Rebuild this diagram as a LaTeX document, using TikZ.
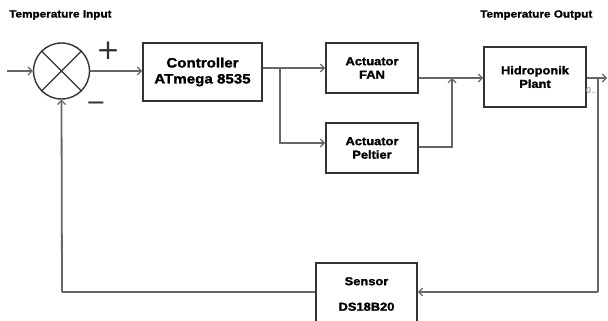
\documentclass[tikz,border=0pt]{standalone}
\usepackage{fontspec}
\setmainfont{Liberation Sans}[FakeStretch=1.12,FakeBold=1.5]
\newfontfamily\thinfont{DejaVu Sans}
\usetikzlibrary{arrows.meta}
\definecolor{boxc}{HTML}{333333}
\definecolor{linec}{HTML}{666666}
\tikzset{
  blk/.style={draw=boxc, line width=1.7pt, fill=white, align=center, font=\bfseries\fontsize{11.5}{13.5}\selectfont, inner sep=0pt},
  wire/.style={draw=linec, line width=1.8pt},
  arr/.style={wire, -{Straight Barb[length=4pt,width=8pt,line width=1.2pt]}},
  lbl/.style={font=\bfseries\fontsize{10.5}{12}\selectfont, inner sep=0pt, anchor=west},
  sign/.style={text=boxc, inner sep=0pt}
}
\begin{document}
\begin{tikzpicture}[x=1pt,y=-1pt]
\useasboundingbox (0,0) rectangle (608,321);
\clip (0,0) rectangle (608,321);
% labels
\node[lbl] (tin) at (9,15) {Temperature Input};
\node[lbl] (tout) at (480,15) {Temperature Output};
% summing junction
\node[draw=boxc, line width=1.4pt, circle, minimum size=56pt, inner sep=0pt] (sum) at (61.5,71) {};
\draw[boxc, line width=1.2pt] (sum.north east) -- (sum.south west) (sum.north west) -- (sum.south east);
\node[sign, font=\thinfont\fontsize{28}{28}\selectfont] (plus) at (108,51) {+};
\node[sign, font=\thinfont\fontsize{24}{24}\selectfont] (minus) at (96,106) {−};
% blocks
\node[blk, minimum width=119pt, minimum height=58pt, font=\bfseries\fontsize{13.5}{16}\selectfont] (ctrl) at (202.5,72) {Controller\\ATmega 8535};
\node[blk, minimum width=92pt, minimum height=50pt] (fan) at (372,68) {Actuator\\FAN};
\node[blk, minimum width=92pt, minimum height=50pt] (pel) at (372,148) {Actuator\\Peltier};
\node[blk, minimum width=102pt, minimum height=60pt] (plant) at (535,77) {Hidroponik\\Plant};
\node[blk, minimum width=101pt, minimum height=62pt] (sensor) at (366.5,294) {Sensor\\[12pt]DS18B20};
\node[font=\fontsize{8}{8}\selectfont, text=gray!70, inner sep=0pt] (zero) at (591,90) {0..};
% coordinates
\coordinate (in) at (7,71);
\coordinate (b1) at (280,68);
\coordinate (j) at (452,78);
\coordinate (tap) at (598,78);
\coordinate (out) at (607,78);
\coordinate (fb) at (598,292);
\coordinate (fl) at (62,292);
% connectors
\draw[arr] (in) -- (sum.west);
\draw[arr] (sum.east) -- (ctrl.west |- sum.east);
\draw[arr] (ctrl.east |- b1) -- (fan.west |- b1);
\draw[arr] (b1) |- (pel.west |- 0,143);
\draw[wire] (fan.east |- j) -- (j);
\draw[arr] (pel.east |- 0,147) -| (j);
\draw[arr] (j) -- (plant.west |- j);
\draw[arr] (plant.east |- out) -- (out);
\draw[wire] (tap) -- (fb);
\draw[arr] (fb) -- (sensor.east |- fb);
\draw[wire] (sensor.west |- fl) -- (fl);
\draw[arr] (fl) -- (sum.south);
\end{tikzpicture}
\end{document}
